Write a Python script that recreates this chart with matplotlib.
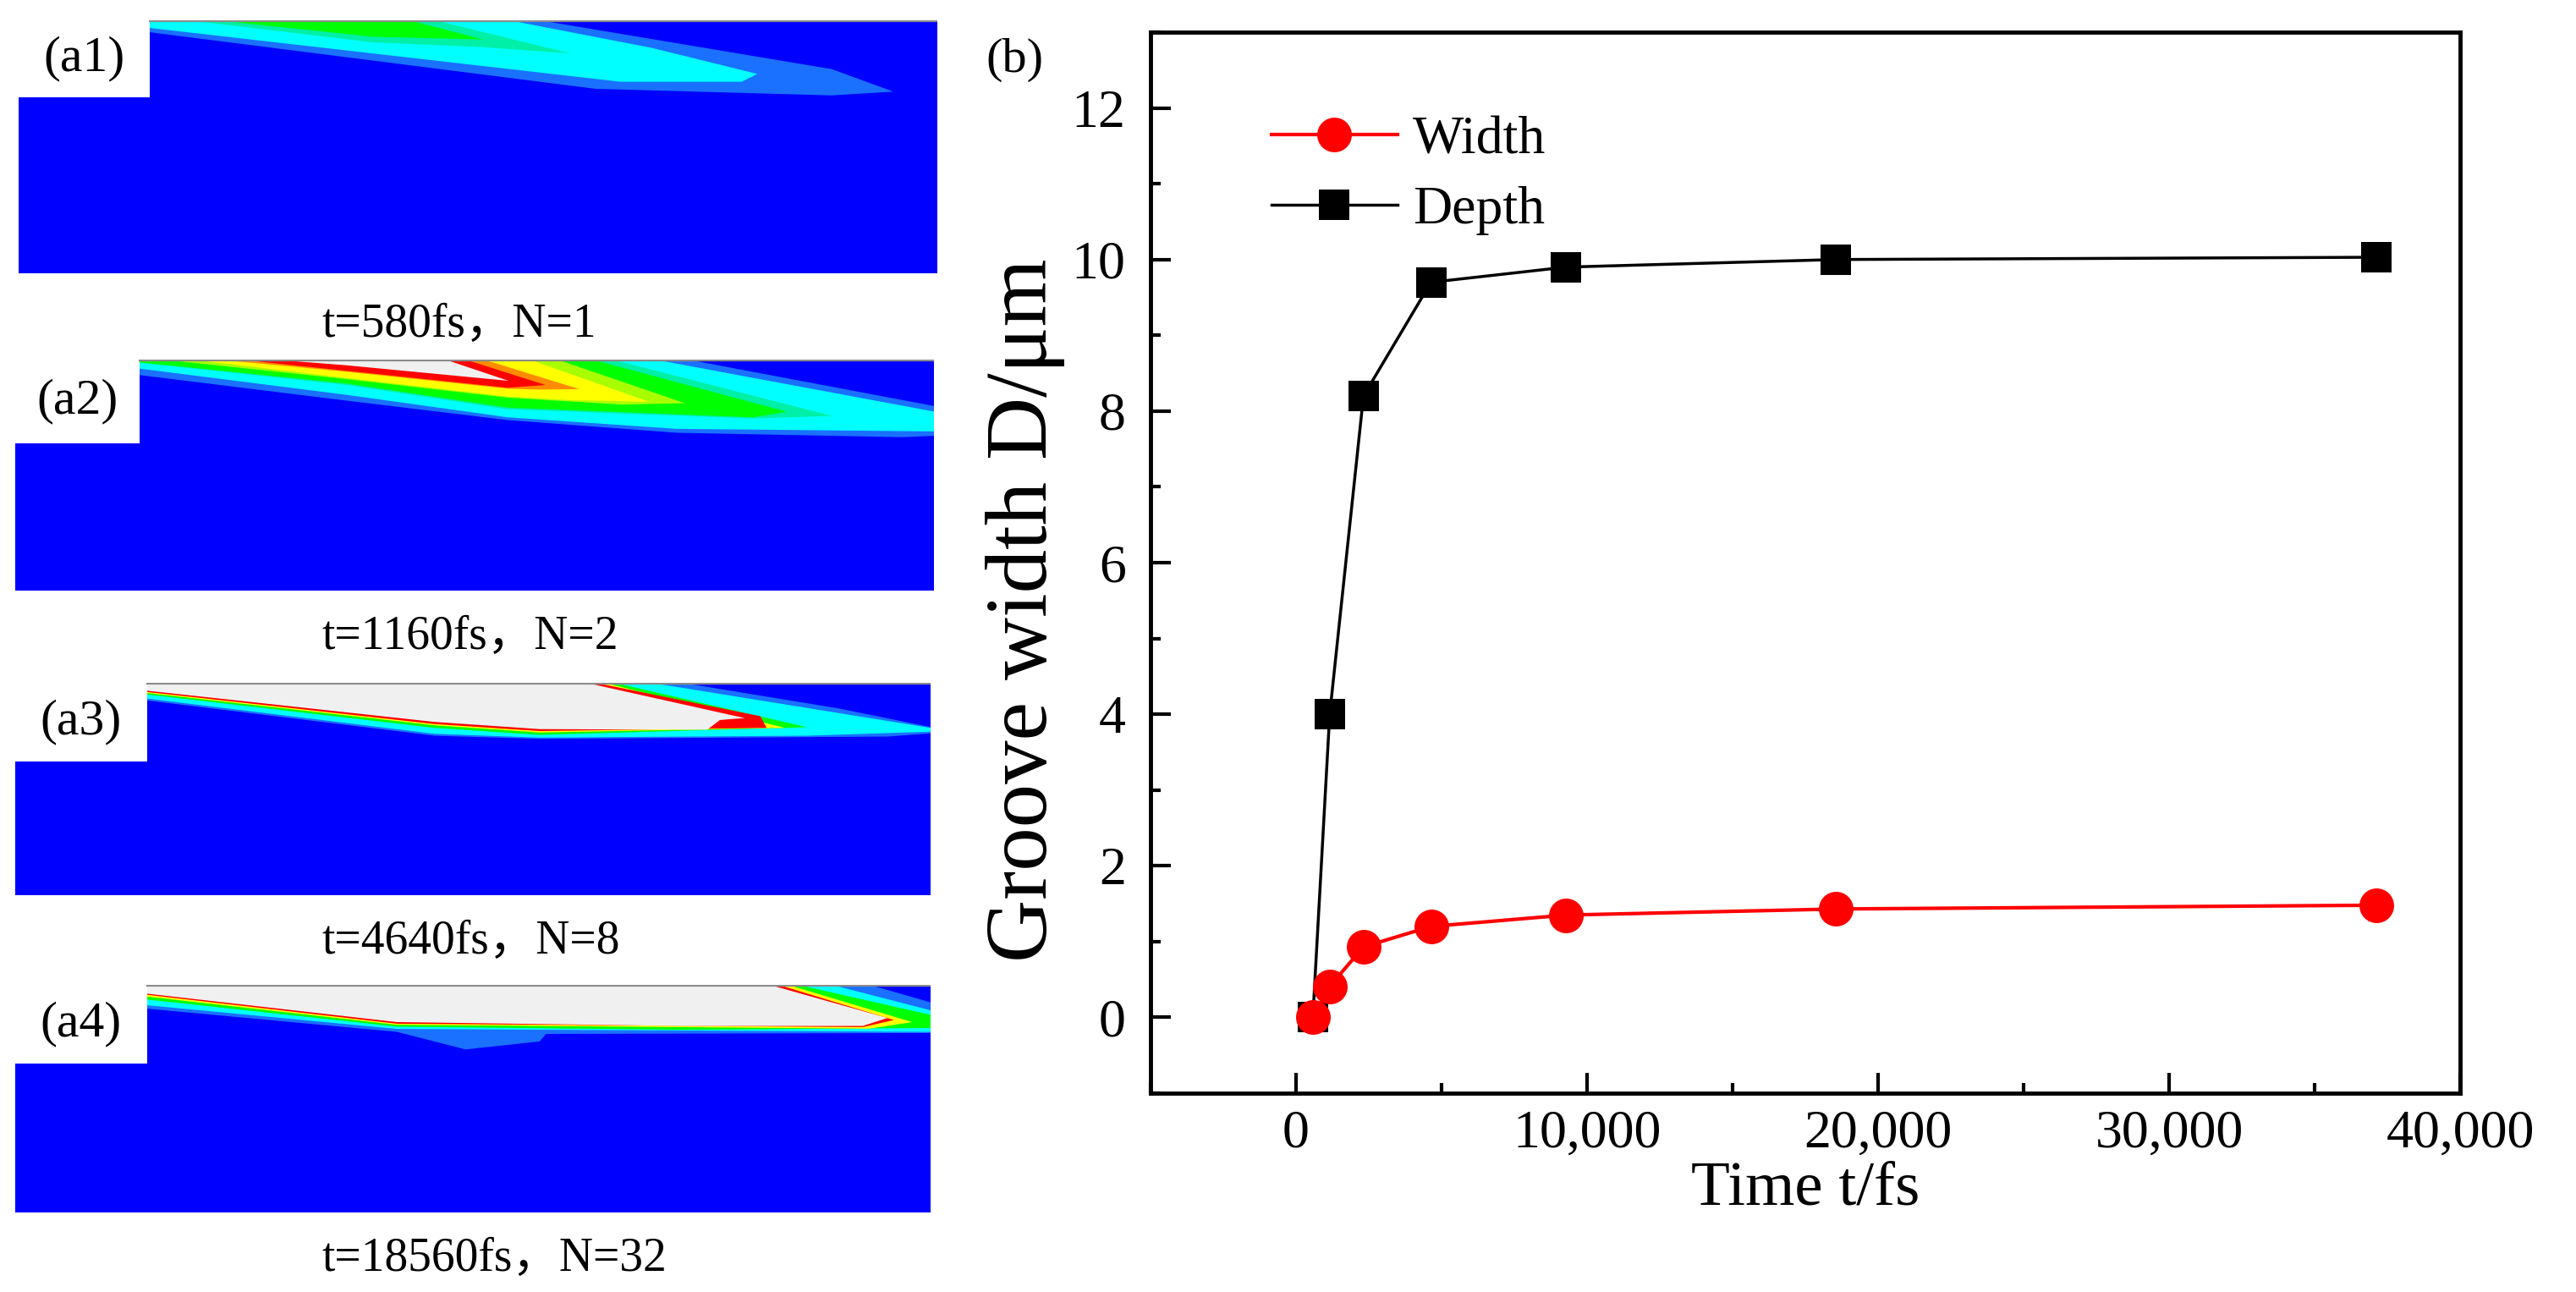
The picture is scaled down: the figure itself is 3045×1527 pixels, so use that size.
import matplotlib
matplotlib.use('Agg')
from matplotlib import pyplot as plt
from matplotlib.ticker import MultipleLocator, StrMethodFormatter

plt.rcParams['font.family'] = ['Liberation Serif', 'Noto Sans CJK SC']

# (b) groove size against time
time_fs = [580, 1160, 2320, 4640, 9280, 18560, 37120]
depth_um = [0.0, 4.0, 8.2, 9.7, 9.9, 10.0, 10.03]
width_um = [0.0, 0.41, 0.93, 1.2, 1.35, 1.43, 1.48]

captions = ['t=580fs，N=1', 't=1160fs，N=2', 't=4640fs，N=8', 't=18560fs，N=32']
tags = ['(a1)', '(a2)', '(a3)', '(a4)']

# contour bands read off the snapshots (level, x in % of width, depth in % of height)
# outer band first, inner bands drawn on top
a1_bands = [
    (1, [14.2, 56.7, 88.5, 95.2, 88.5, 62.8, 14.2], [0, 0, 19.3, 28.2, 29.7, 27.1, 4.7]),
    (2, [14.2, 53.4, 68.9, 80.4, 78.7, 65.5, 14.2], [0, 0, 10.9, 21.2, 24.3, 24.3, 3.0]),
    (3, [20.3, 45.3, 60.1, 50.0, 38.5, 20.3], [0, 0, 13.1, 10.5, 8.7, 0.8]),
    (4, [23.6, 42.5, 50.6, 38.5, 23.6], [0, 0, 7.6, 6.5, 0.8]),
]
a2_bands = [
    (1, [13.5, 73.2, 100, 100, 96.5, 72.0, 53.6, 36.1, 13.5], [0, 0, 20.1, 33.0, 33.6, 31.7, 26.2, 17.8, 6.7]),
    (2, [13.5, 69.6, 100, 100, 72.0, 53.6, 36.1, 13.5], [0, 0, 22.5, 31.1, 30.0, 25.0, 15.3, 3.9]),
    (3, [13.5, 65.0, 88.9, 80.3, 53.6, 36.1, 13.5], [0, 0, 24.4, 25.5, 21.5, 11.0, 1.4]),
    (4, [13.5, 62.8, 84.0, 80.3, 53.6, 36.1, 13.5], [0, 0, 22.6, 25.0, 20.8, 10.4, 1.2]),
    (5, [17.0, 59.0, 72.9, 66.0, 53.6, 36.1, 17.0], [0, 0, 18.9, 19.5, 16.5, 8.5, 0.4]),
    (6, [19.2, 56.0, 69.0, 60.0, 53.6, 36.1, 19.2], [0, 0, 18.3, 17.5, 16.0, 8.0, 0]),
    (7, [22.0, 51.0, 61.4, 57.0, 53.6, 36.1, 22.0], [0, 0, 12.8, 13.0, 12.6, 5.3, 0]),
    (8, [24.4, 49.0, 57.7, 53.6, 36.1, 24.4], [0, 0, 11.0, 12.2, 4.9, 0]),
    (9, [28.1, 46.8, 53.7, 36.1, 28.1], [0, 0, 9.2, 2.5, 0]),
]
a3_bands = [
    (1, [14.4, 72.9, 89.9, 100, 100, 95.3, 57.3, 45.8, 14.4], [0, 0, 12.0, 20.8, 23.8, 25.3, 26.4, 24.9, 8.3]),
    (2, [14.4, 69.5, 100, 100, 86.5, 57.3, 45.8, 14.4], [0, 0, 21.2, 23.0, 24.9, 25.8, 24.0, 7.4]),
    (4, [14.4, 65.5, 86.5, 57.3, 45.8, 14.4], [0, 0, 20.9, 24.5, 21.2, 5.5]),
    (6, [14.4, 64.4, 84.1, 57.3, 45.8, 14.4], [0, 0, 21.2, 23.4, 20.0, 4.8]),
    (8, [14.4, 63.4, 81.4, 82.1, 57.3, 45.8, 14.4], [0, 0, 15.7, 21.2, 22.7, 19.4, 4.3]),
    (9, [14.4, 62.4, 79.7, 77.0, 75.6, 57.3, 45.8, 14.4], [0, 0, 16.6, 17.5, 22.1, 21.8, 18.4, 3.7]),
]
a4_bands = [
    (1, [14.4, 93.3, 100, 100, 58.0, 57.3, 49.2, 41.7, 14.4], [0, 0, 7.7, 21.2, 21.6, 24.9, 28.4, 20.7, 10.5]),
    (2, [14.4, 89.2, 100, 100, 41.7, 14.4], [0, 0, 11.2, 20.7, 19.4, 9.0]),
    (4, [14.4, 85.5, 100, 100, 72.9, 41.7, 14.4], [0, 0, 13.2, 19.0, 19.8, 18.4, 6.5]),
    (6, [14.4, 84.4, 98.0, 93.3, 41.7, 14.4], [0, 0, 16.4, 19.3, 17.6, 5.2]),
    (8, [14.4, 83.4, 96.0, 92.6, 41.7, 14.4], [0, 0, 15.5, 18.6, 17.1, 4.4]),
    (9, [14.4, 82.4, 95.3, 92.6, 72.9, 41.7, 14.4], [0, 0, 14.6, 18.1, 18.1, 16.4, 3.9]),
]

level_colors = ['#0000ff', '#1a70ff', '#00ffff', '#00f0a8', '#00ff00',
                '#a8ff00', '#ffff00', '#ff8c00', '#ff0000', '#f0f0f0']

fig = plt.figure(figsize=(30.45, 15.27), dpi=100)

#---------------------------------------------------------------- panels a1-a4
panel_rects = [[0.00722, 0.7885, 0.3567, 0.1958],
               [0.00591, 0.5429, 0.3567, 0.1788],
               [0.00591, 0.3071, 0.3553, 0.1644],
               [0.00591, 0.0616, 0.3553, 0.1762]]
notches = [(14.3, 30.4), (13.5, 36.3), (14.4, 37.1), (14.4, 34.6)]
caption_y = [0.7394, 0.4977, 0.2620, 0.0164]

for rect, bands, notch, tag, cap, cy in zip(panel_rects,
                                            [a1_bands, a2_bands, a3_bands, a4_bands],
                                            notches, tags, captions, caption_y):
    ax = fig.add_axes(rect)
    ax.set_xlim(0, 100)
    ax.set_ylim(100, 0)
    ax.axis('off')
    ax.fill([0, 100, 100, 0], [0, 0, 100, 100], color=level_colors[0], lw=0)
    for level, xs, ys in bands:
        ax.fill(xs, ys, color=level_colors[level], lw=0)
    ax.fill([0, notch[0], notch[0], 0], [0, 0, notch[1], notch[1]], color='white', lw=0)
    ax.plot([notch[0], 100], [0.4, 0.4], color='#8c8c8c', lw=1.6)
    ax.text(notch[0] / 2, notch[1] / 2, tag, ha='center', va='center', fontsize=43)
    fig.text(0.1248, cy, cap, ha='left', va='baseline', fontsize=40)

#---------------------------------------------------------------- panel b
axb = fig.add_axes([0.4466, 0.1539, 0.5084, 0.8212])
axb.plot(time_fs, depth_um, color='black', lw=2.5, marker='s', ms=26, mew=0, label='Depth')
axb.plot(time_fs, width_um, color='red', lw=3.0, marker='o', ms=29.5, mew=0, label='Width')

axb.set_xlim(-5000, 40000)
axb.set_ylim(-1, 13)
axb.xaxis.set_major_locator(MultipleLocator(10000))
axb.xaxis.set_minor_locator(MultipleLocator(5000))
axb.yaxis.set_major_locator(MultipleLocator(2))
axb.yaxis.set_minor_locator(MultipleLocator(1))
axb.xaxis.set_major_formatter(StrMethodFormatter('{x:,.0f}'))

axb.tick_params(which='both', direction='in', top=False, right=False, width=3)
axb.tick_params(which='major', length=17)
axb.tick_params(which='minor', length=8.5)
axb.tick_params(axis='x', which='major', labelsize=46, pad=14)
axb.tick_params(axis='y', which='major', labelsize=46, pad=21)
for sp in axb.spines.values():
    sp.set_linewidth(3.5)

axb.set_xlabel('Time t/fs', fontsize=54, labelpad=2)
axb.set_ylabel('Groove width D/μm', fontsize=74)
axb.yaxis.set_label_coords(-0.065, 0.455)

h, l = axb.get_legend_handles_labels()
axb.legend(h[::-1], l[::-1], loc='upper left', bbox_to_anchor=(0.0924, 0.921),
           frameon=False, fontsize=46, borderpad=0, borderaxespad=0,
           handlelength=2.33, handletextpad=0.28, labelspacing=0.37, numpoints=1)

fig.text(0.3938, 0.9535, '(b)', ha='center', va='center', fontsize=42)

fig.savefig('out.png', dpi=100)
